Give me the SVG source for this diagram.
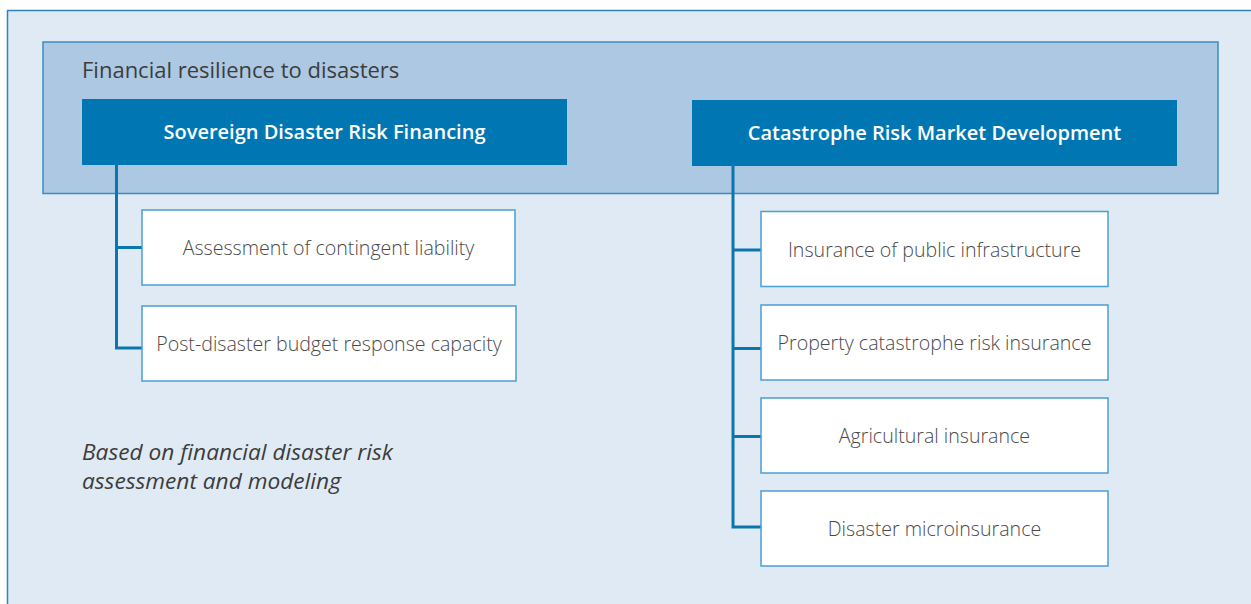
<svg xmlns="http://www.w3.org/2000/svg" width="1251" height="604" viewBox="0 0 1251 604">
<style>
.frame{fill:#e0eaf4;stroke:#2f85bb;stroke-width:1.5}
.group{fill:#adc8e2;stroke:#3a8cc2;stroke-width:1.5}
.head{fill:#0077b3}
.child{fill:#ffffff;stroke:#4a9fd2;stroke-width:1.5}
.conn{fill:none;stroke:#0a76b0;stroke-width:3}
.t{font-family:"Open Sans","Liberation Sans",sans-serif;fill:#3c3c3c}
.ht{font-family:"Open Sans","Liberation Sans",sans-serif;fill:#ffffff;font-size:20px;font-weight:600;text-anchor:middle}
.ct{font-family:"Open Sans","Liberation Sans",sans-serif;fill:#4a4a4a;font-size:19.6px;font-weight:300;text-anchor:middle}
</style>
<rect x="0" y="0" width="1251" height="604" fill="#ffffff"/>
<rect class="frame" x="7.5" y="10.5" width="1260" height="610"/>
<g id="group-financial-resilience">
<rect class="group" x="43" y="42" width="1175" height="151.5"/>
<text class="t" x="82" y="78" font-size="22">Financial resilience to disasters</text>
</g>
<g id="connectors">
<path class="conn" d="M116.5 164 V348 H142 M116.5 247.5 H142"/>
<path class="conn" d="M733 165 V527 H761 M733 250 H761 M733 348.5 H761 M733 436.5 H761"/>
</g>
<g id="sovereign">
<rect class="head" x="82" y="99" width="485" height="66"/>
<text class="ht" x="324.5" y="139">Sovereign Disaster Risk Financing</text>
</g>
<g id="catastrophe">
<rect class="head" x="692" y="100" width="485" height="66"/>
<text class="ht" x="934.5" y="140">Catastrophe Risk Market Development</text>
</g>
<g id="assessment">
<rect class="child" x="142" y="210" width="373" height="75"/>
<text class="ct" x="328.5" y="255">Assessment of contingent liability</text>
</g>
<g id="post-disaster">
<rect class="child" x="142" y="306" width="374" height="75"/>
<text class="ct" x="329" y="351">Post-disaster budget response capacity</text>
</g>
<g id="public-infrastructure">
<rect class="child" x="761" y="211.5" width="347" height="75"/>
<text class="ct" x="934.5" y="257">Insurance of public infrastructure</text>
</g>
<g id="property">
<rect class="child" x="761" y="305" width="347" height="75"/>
<text class="ct" x="934.5" y="350">Property catastrophe risk insurance</text>
</g>
<g id="agricultural">
<rect class="child" x="761" y="398" width="347" height="75"/>
<text class="ct" x="934.5" y="443">Agricultural insurance</text>
</g>
<g id="microinsurance">
<rect class="child" x="761" y="491" width="347" height="75"/>
<text class="ct" x="934.5" y="536">Disaster microinsurance</text>
</g>
<g id="note">
<text class="t" x="82" y="460" font-size="22.7" font-style="italic">Based on financial disaster risk</text>
<text class="t" x="82" y="489" font-size="22.7" font-style="italic">assessment and modeling</text>
</g>
</svg>
